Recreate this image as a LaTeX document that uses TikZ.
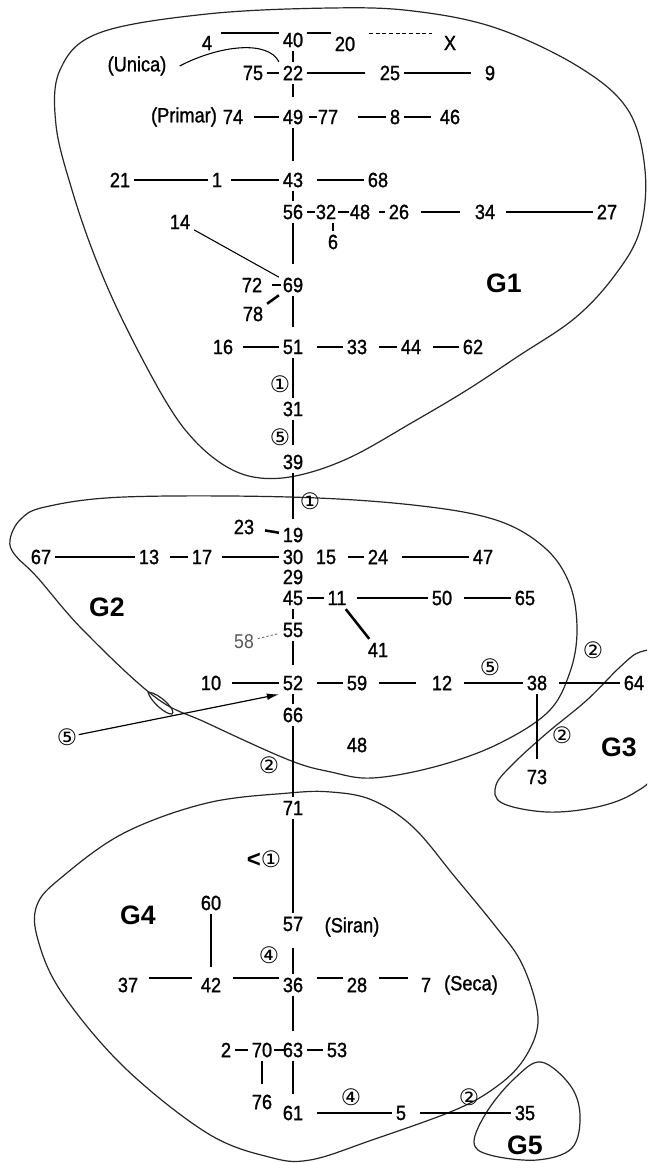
\documentclass[tikz,border=0pt]{standalone}
\usepackage{fontspec}
\usetikzlibrary{arrows.meta}
\newfontfamily\numfont{Liberation Sans}[FakeStretch=0.88,FakeBold=1.2]
\newfontfamily\numlight{Liberation Sans}[FakeStretch=0.88]
\newfontfamily\gfont{Liberation Sans}
\newfontfamily\circfont{DejaVu Sans}
\begin{document}
\begin{tikzpicture}[x=0.75pt,y=-0.75pt,
  num/.style={font=\numfont\fontsize{15.5}{15.5}\selectfont, inner sep=3pt, outer sep=0pt},
  lbl58/.style={num, font=\numlight\fontsize{15}{15}\selectfont, text=black!65},
  circ/.style={font=\circfont\fontsize{17}{17}\selectfont, inner sep=1pt},
  glab/.style={font=\gfont\bfseries\fontsize{20}{20}\selectfont, inner sep=1pt},
  conn/.style={line width=1.9pt},
  thinc/.style={line width=0.8pt},
  dashc/.style={line width=0.6pt, dash pattern=on 3pt off 2pt},
  dotc/.style={line width=0.6pt, black!65, dash pattern=on 1.8pt off 1.5pt},
  arrowc/.style={line width=0.9pt, -{Latex[length=9pt,width=5pt]}},
  blob/.style={line width=0.9pt, black!85},
  sl/.style={shorten <={#1*0.75pt}},
  sr/.style={shorten >={#1*0.75pt}}]
\useasboundingbox (0,0) rectangle (647,1163);
\clip (0,0) rectangle (647,1163);
\fill[white] (0,0) rectangle (647,1163);

% ---------- group outlines ----------
\draw[blob] plot[smooth cycle, tension=0.6] coordinates {
 (99,33) (207,14) (331,8) (413,11) (496,28) (579,67) (628,110) (645,170)
 (640,230) (615,275) (575,318) (517,357) (467,390) (413,422) (351,457)
 (300,475) (260,478) (227,467) (194,440) (165,400) (124,323) (95,257)
 (72,190) (56,125) (60,70)};
\draw[blob] plot[smooth cycle, tension=0.6] coordinates {
 (10,540) (20,520) (45,507) (124,497) (289,497) (413,505) (496,520)
 (545,548) (570,585) (577,630) (570,672) (548,712) (496,745) (434,767)
 (372,778) (331,772) (289,760) (207,723) (155,697) (83,630) (37,577) (15,555)};
\draw[blob] (148,692) .. controls (160,693) and (177,711) .. (172,714)
  .. controls (166,715) and (150,701) .. (148,692);
\draw[blob] plot[smooth cycle, tension=0.6] coordinates {
 (640,652) (620,667) (587,700) (547,733) (514,763) (496,785) (502,803)
 (547,812) (597,807) (634,793) (655,770) (665,700) (660,655)};
\draw[blob] plot[smooth cycle, tension=0.6] coordinates {
 (289,793) (331,792) (372,800) (413,827) (455,877) (496,927) (520,960)
 (535,1000) (537,1030) (522,1062) (496,1087) (455,1110) (372,1140)
 (310,1160) (269,1157) (207,1133) (124,1067) (62,993) (38,940) (37,905)
 (62,877) (124,833) (207,803)};
\draw[blob] plot[smooth cycle, tension=0.6] coordinates {
 (541,1062) (570,1085) (580,1115) (572,1148) (537,1160) (490,1155)
 (474,1142) (488,1110) (515,1078)};

% ---------- nodes ----------
\node[num] (n4) at (207,43) {4};
\node[num] (n40) at (293,40) {40};
\node[num] (n20) at (345,44) {20};
\node[num] (nX) at (450,43) {X};
\node[num] (unica) at (137,66) {(Unica)};
\node[num] (n75) at (253,73) {75};
\node[num] (n22) at (293,73) {22};
\node[num] (n25) at (390,73) {25};
\node[num] (n9) at (490,73) {9};
\node[num] (primar) at (184,117) {(Primar)};
\node[num] (n74) at (233,117) {74};
\node[num] (n49) at (293,117) {49};
\node[num] (n77) at (328,117) {77};
\node[num] (n8) at (395,117) {8};
\node[num] (n46) at (450,117) {46};
\node[num] (n21) at (120,180) {21};
\node[num] (n1) at (217,180) {1};
\node[num] (n43) at (293,180) {43};
\node[num] (n68) at (378,180) {68};
\node[num] (n56) at (293,212) {56};
\node[num] (n32) at (326,212) {32};
\node[num] (n48) at (360,212) {48};
\node[num] (n26) at (399,212) {26};
\node[num] (n34) at (485,212) {34};
\node[num] (n27) at (607,212) {27};
\node[num] (n6) at (333,242) {6};
\node[num] (n14) at (180,222) {14};
\node[num] (n72) at (252,285) {72};
\node[num] (n69) at (293,285) {69};
\node[num] (n78) at (253,314) {78};
\node[num] (n16) at (223,347) {16};
\node[num] (n51) at (293,347) {51};
\node[num] (n33) at (357,347) {33};
\node[num] (n44) at (411,347) {44};
\node[num] (n62) at (473,347) {62};
\node[glab] (g1) at (504,283) {G1};
\node[circ] (c1a) at (280,384) {①};
\node[num] (n31) at (293,409) {31};
\node[circ] (c5a) at (280,437) {⑤};
\node[num] (n39) at (293,462) {39};
\node[circ] (c1b) at (310,501) {①};
\node[num] (n23) at (244,527) {23};
\node[num] (n19) at (293,535) {19};
\node[num] (n67) at (41,557) {67};
\node[num] (n13) at (149,557) {13};
\node[num] (n17) at (202,557) {17};
\node[num] (n30) at (293,557) {30};
\node[num] (n15) at (326,557) {15};
\node[num] (n24) at (378,557) {24};
\node[num] (n47) at (483,557) {47};
\node[num] (n29) at (293,577) {29};
\node[num] (n45) at (293,598) {45};
\node[num] (n11) at (337,598) {11};
\node[num] (n50) at (442,598) {50};
\node[num] (n65) at (525,598) {65};
\node[num] (n41) at (378,650) {41};
\node[glab] (g2) at (107,607) {G2};
\node[num] (n55) at (293,630) {55};
\node[lbl58] (n58) at (244,642) {58};
\node[num] (n10) at (211,683) {10};
\node[num] (n52) at (293,683) {52};
\node[num] (n59) at (357,683) {59};
\node[num] (n12) at (442,683) {12};
\node[num] (n38) at (537,683) {38};
\node[num] (n64) at (634,683) {64};
\node[circ] (c5b) at (490,667) {⑤};
\node[circ] (c2a) at (593,650) {②};
\node[circ] (c2b) at (562,735) {②};
\node[num] (n73) at (537,777) {73};
\node[glab] (g3) at (619,747) {G3};
\node[num] (n66) at (293,715) {66};
\node[circ] (c2c) at (269,765) {②};
\node[num] (n48b) at (357,745) {48};
\node[circ] (c5c) at (67,737) {⑤};
\node[num] (n71) at (293,808) {71};
\node[inner sep=1pt] (lt) at (264,859) {{\gfont\bfseries\fontsize{18}{18}\selectfont <}{\circfont\fontsize{17}{17}\selectfont ①}};
\node[glab] (g4) at (138,915) {G4};
\node[num] (n60) at (211,903) {60};
\node[num] (n57) at (293,924) {57};
\node[num] (siran) at (352,927) {(Siran)};
\node[circ] (c4a) at (269,955) {④};
\node[num] (n37) at (128,985) {37};
\node[num] (n42) at (211,985) {42};
\node[num] (n36) at (293,985) {36};
\node[num] (n28) at (357,985) {28};
\node[num] (n7) at (426,985) {7};
\node[num] (seca) at (471,985) {(Seca)};
\node[num] (n2) at (226,1050) {2};
\node[num] (n70) at (262,1050) {70};
\node[num] (n63) at (293,1050) {63};
\node[num] (n53) at (337,1050) {53};
\node[num] (n76) at (262,1102) {76};
\node[num] (n61) at (293,1113) {61};
\node[circ] (c4b) at (351,1097) {④};
\node[num] (n5) at (401,1113) {5};
\node[num] (n35) at (525,1113) {35};
\node[circ] (c2d) at (469,1097) {②};
\node[glab] (g5) at (525,1145) {G5};

% ---------- connectors ----------
\draw[conn,sl=5] ([yshift=7.5pt]n4.east) -- ([yshift=5.25pt]n40.west);
\draw[conn] ([yshift=5.25pt]n40.east) -- ([yshift=8.25pt]n20.west);
\draw[dashc,sl=10,sr=8] ([yshift=8.25pt]n20.east) -- ([yshift=7.5pt]nX.west);
\draw[conn] (n40) -- (n22);
\draw[thinc] ([xshift=7pt]unica.east) .. controls (220,45) and (268,40) .. (n22.north west);
\draw[conn] (n75) -- (n22);
\draw[conn,sr=11] (n22) -- (n25);
\draw[conn,sr=10] (n25) -- (n9);
\draw[conn,sr=9] (n22) -- (n49);
\draw[conn,sl=7] (n74) -- (n49);
\draw[conn,sl=2,sr=-3] (n49) -- (n77);
\draw[conn,sl=16] (n77) -- (n8);
\draw[conn,sr=5] (n8) -- (n46);
\draw[conn,sr=8] (n49) -- (n43);
\draw[conn] (n21) -- (n1);
\draw[conn,sl=5] (n1) -- (n43);
\draw[conn,sl=10] (n43) -- (n68);
\draw[conn] (n43) -- (n56);
\draw[conn,sr=-3] (n56) -- (n32);
\draw[conn,sl=-2,sr=-3] (n32) -- (n48);
\draw[conn,sl=5] (n48) -- (n26);
\draw[conn,sl=8,sr=11] (n26) -- (n34);
\draw[conn,sl=7] (n34) -- (n27);
\draw[line width=1.2pt] (n6.north) -- (n6.north |- n32.south);
\draw[conn,sr=10] (n56) -- (n69);
\draw[thinc] (n14) -- (n69);
\draw[conn,sl=6,sr=-2] (n72) -- (n69);
\draw[conn] (n78) -- (n69);
\draw[conn,sr=9] (n69) -- (n51);
\draw[conn,sl=6] (n16) -- (n51);
\draw[conn,sl=10] (n51) -- (n33);
\draw[conn,sl=8] (n33) -- (n44);
\draw[conn,sl=8] (n44) -- (n62);
\draw[conn] (n51) -- (n31);
\draw[conn,sr=6] (n31) -- (n39);
\draw[conn,sr=5] (n39) -- (n19);
\draw[conn,sl=7] (n23) -- (n19);
\draw[conn] (n67) -- (n13);
\draw[conn,sl=7] (n13) -- (n17);
\draw[conn,sl=6] (n17) -- (n30);
\draw[conn,sl=8] (n15) -- (n24);
\draw[conn,sl=10] (n24) -- (n47);
\draw[conn] (n45) -- (n11);
\draw[conn,sl=7] (n11) -- (n50);
\draw[conn,sl=8] (n50) -- (n65);
\draw[conn] (n11) -- (n41);
\draw[conn] (n45) -- (n55);
\draw[dotc] (n58) -- (n55);
\draw[conn,sr=7] (n55) -- (n52);
\draw[conn,sl=7] (n10) -- (n52);
\draw[conn,sl=10] (n52) -- (n59);
\draw[conn,sl=8,sr=12] (n59) -- (n12);
\draw[conn,sl=8] (n12) -- (n38);
\draw[conn,sl=8] (n38) -- (n64);
\draw[conn,sr=7] (n38) -- (n73);
\draw[conn] (n52) -- (n66);
\draw[conn] (n66) -- (n71);
\draw[arrowc] (c5c) -- (n52.south west);
\draw[conn] (n71) -- (n57);
\draw[conn,sl=13] (n57) -- (n36);
\draw[conn,sr=7] (n60) -- (n42);
\draw[conn,sl=7,sr=5] ([yshift=5.25pt]n37.east) -- ([yshift=5.25pt]n42.west);
\draw[conn,sl=8] ([yshift=5.25pt]n42.east) -- ([yshift=5.25pt]n36.west);
\draw[conn,sl=10] ([yshift=5.25pt]n36.east) -- ([yshift=5.25pt]n28.west);
\draw[conn,sl=8,sr=9] ([yshift=5.25pt]n28.east) -- ([yshift=5.25pt]n7.west);
\draw[conn,sr=8] (n36) -- (n63);
\draw[conn] (n2) -- (n70);
\draw[conn,sl=-2,sr=-5] (n70) -- (n63);
\draw[conn] (n63) -- (n53);
\draw[conn,sr=7] (n70) -- (n76);
\draw[conn,sr=8] (n63) -- (n61);
\draw[conn,sl=10] (n61) -- (n5);
\draw[conn,sl=10] (n5) -- (n35);
\end{tikzpicture}
\end{document}
